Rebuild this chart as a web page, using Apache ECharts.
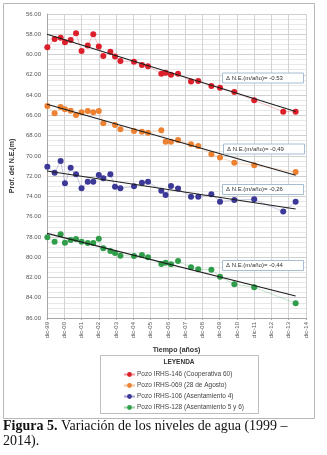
<!DOCTYPE html>
<html>
<head>
<meta charset="utf-8">
<script src="https://cdn.jsdelivr.net/npm/echarts@6/dist/echarts.min.js"></script>
<style>
  html, body { margin: 0; padding: 0; background: #fff; }
  #chart { width: 327px; height: 455px; }
</style>
</head>
<body>
<div id="chart"></div>
<script>
// time of each measurement, in years counted from dic-99
const tiempo = [0.02, 0.44, 0.79, 1.04, 1.37, 1.68, 2.0, 2.36, 2.68, 3.0, 3.26, 3.67, 3.94, 4.25,
  5.04, 5.5, 5.85, 6.62, 6.87, 7.18, 7.59, 8.34, 8.76, 9.52, 10.02, 10.85, 12.0, 13.68, 14.4];

const pozo146 = [59.29, 58.47, 58.34, 58.8, 58.57, 57.9, 59.65, 59.1, 58.0, 59.2, 60.15, 59.72, 60.2, 60.64,
  60.7, 61.03, 61.16, 61.89, 61.79, 61.99, 61.89, 62.65, 62.61, 63.1, 63.27, 63.7, 64.52, 65.64, 65.64];
const pozo069 = [65.08, 65.8, 65.18, 65.41, 65.54, 65.97, 65.7, 65.57, 65.7, 65.57, 66.79, null, 66.95, 67.38,
  67.55, 67.61, 67.71, 67.48, 68.6, 68.6, 68.44, 68.86, 69.03, 69.85, 70.15, 70.67, 70.93, null, 71.59];
const pozo106 = [71.07, 71.66, 70.5, 72.71, 71.17, 71.82, 73.2, 72.55, 72.55, 71.89, 72.22, 71.82, 73.04, 73.2,
  73.0, 72.65, 72.55, 73.44, 73.86, 72.97, 73.22, 74.03, 74.03, 73.8, 74.52, 74.36, 74.29, 75.5, 74.52];
const pozo128 = [78.04, 78.47, 77.74, 78.57, 78.3, 78.2, 78.47, 78.6, 78.6, 78.17, 79.12, 79.39, 79.59, 79.85,
  79.88, 79.78, 80.01, 80.67, 80.54, 80.7, 80.38, 81.0, 81.2, 81.23, 81.92, 82.68, 82.97, null, 84.55];

const nombres = ['Pozo IRHS-146 (Cooperativa 60)', 'Pozo IRHS-069 (28 de Agosto)',
  'Pozo IRHS-106 (Asentamiento 4)', 'Pozo IRHS-128 (Asentamiento 5 y 6)'];
const colores = ['#dc1f2b', '#ec8132', '#3b3897', '#2f9d4a'];

// linear trend: start and end of each fitted line
const tendT = [0, 14.4];
const tend146 = [58.0, 65.63];
const tend069 = [64.9, 71.92];
const tend106 = [71.5, 75.24];
const tend128 = [77.65, 83.83];
const etiquetas = ['Δ N.E.(m/año)= -0.53', 'Δ N.E.(m/año)= -0,49', 'Δ N.E.(m/año)= -0,26', 'Δ N.E.(m/año)= -0,44'];

const chart = echarts.init(document.getElementById('chart'));
const font = '"Liberation Sans", Arial, sans-serif';

const pozos = [pozo146, pozo069, pozo106, pozo128];
const tends = [tend146, tend069, tend106, tend128];

const series = [];
pozos.forEach((vals, i) => {
  series.push({
    name: nombres[i],
    type: 'line',
    data: tiempo.map((t, j) => [t, vals[j]]),
    connectNulls: true,
    symbol: 'circle',
    symbolSize: 6,
    itemStyle: { color: colores[i] },
    lineStyle: { color: colores[i], width: 0.6, opacity: 0.45 },
    z: 3
  });
});
tends.forEach((vals) => {
  series.push({
    type: 'line',
    data: tendT.map((t, j) => [t, vals[j]]),
    symbol: 'none',
    lineStyle: { color: '#1e1e1e', width: 1.1 },
    silent: true,
    z: 4
  });
});

const boxes = [[222, 72.5], [223, 143.5], [222, 184], [222, 260]];
const graphic = [
  { type: 'rect', shape: { x: 3.5, y: 3.5, width: 311, height: 415 }, style: { fill: 'none', stroke: '#b8b8b8', lineWidth: 1 }, z: 0 },
  { type: 'rect', shape: { x: 100.5, y: 355.5, width: 158, height: 58 }, style: { fill: 'none', stroke: '#bdbdbd', lineWidth: 1 }, z: 10 },
  { type: 'text', x: 179, y: 359, style: { text: 'LEYENDA', fill: '#333', font: 'bold 6.5px ' + font, textAlign: 'center' }, z: 10 },
  { type: 'text', left: 3, top: 419, style: {
      text: '{b|Figura 5.} Variación de los niveles de agua (1999 –\n2014).',
      fill: '#111', font: '14px "Liberation Serif", "Times New Roman", serif', lineHeight: 15,
      rich: { b: { fontWeight: 'bold', fontSize: 14, fontFamily: '"Liberation Serif", serif', fill: '#111' } }
    }, z: 10 }
];
boxes.forEach((b, i) => {
  graphic.push({ type: 'rect', shape: { x: b[0] + 0.5, y: b[1] + 0.5, width: 81, height: 10 },
    style: { fill: '#fff', stroke: '#a8bcd2', lineWidth: 1 }, z: 20 });
  graphic.push({ type: 'text', x: b[0] + 4, y: b[1] + 2.5,
    style: { text: etiquetas[i], fill: '#333', font: '6px ' + font }, z: 21 });
});

const option = {
  animation: false,
  backgroundColor: '#fff',
  textStyle: { fontFamily: font },
  grid: { left: 47, right: 21, top: 14, bottom: 137 },
  xAxis: {
    type: 'value',
    min: 0, max: 15, interval: 1,
    name: 'Tiempo (años)',
    nameLocation: 'middle',
    nameGap: 27,
    nameTextStyle: { fontSize: 7, fontWeight: 'bold', color: '#333' },
    axisLine: { show: true, lineStyle: { color: '#a6a6a6' } },
    axisTick: { show: true, length: 2, lineStyle: { color: '#a6a6a6' } },
    axisLabel: {
      rotate: 90, fontSize: 6, color: '#555', margin: 4,
      formatter: (v) => 'dic-' + String((99 + v) % 100).padStart(2, '0')
    },
    splitLine: { show: true, lineStyle: { color: '#d3d3d3', width: 1 } }
  },
  yAxis: {
    type: 'value',
    inverse: true,
    min: 56, max: 86, interval: 2,
    name: 'Prof. del N.E.(m)',
    nameLocation: 'middle',
    nameGap: 30,
    nameTextStyle: { fontSize: 7, fontWeight: 'bold', color: '#333' },
    axisLine: { show: true, lineStyle: { color: '#a6a6a6' } },
    axisTick: { show: false },
    axisLabel: { fontSize: 6, color: '#555', margin: 6, formatter: (v) => v.toFixed(2) },
    splitLine: { show: true, lineStyle: { color: '#d0d0d0', width: 1 } },
    minorTick: { show: false, splitNumber: 4 },
    minorSplitLine: { show: true, lineStyle: { color: '#e8e8e8', width: 1 } }
  },
  legend: {
    data: nombres,
    orient: 'vertical',
    left: 123, top: 371,
    padding: 0,
    itemWidth: 11, itemHeight: 6, itemGap: 4,
    textStyle: { fontSize: 6.5, color: '#444', padding: [0, 0, 0, -3] }
  },
  graphic: graphic,
  series: series
};
chart.setOption(option);
</script>
</body>
</html>
